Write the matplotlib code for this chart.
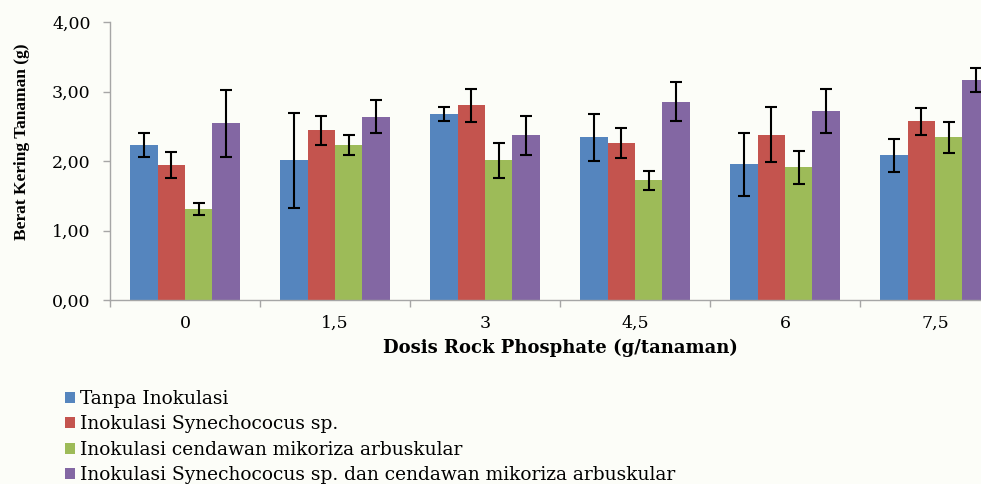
import numpy as np
import matplotlib.pyplot as plt

plt.rcParams['font.family'] = ['DejaVu Serif']

# Dosis rock phosphate (g/tanaman)
doses = ['0', '1,5', '3', '4,5', '6', '7,5']

series = ['Tanpa Inokulasi',
          'Inokulasi Synechococus sp.',
          'Inokulasi cendawan mikoriza arbuskular',
          'Inokulasi Synechococus sp. dan cendawan mikoriza arbuskular']

# berat kering tanaman (g) per perlakuan
tanpa = [2.23, 2.01, 2.68, 2.34, 1.95, 2.08]
syn = [1.94, 2.44, 2.80, 2.26, 2.38, 2.57]
cma = [1.31, 2.23, 2.01, 1.72, 1.91, 2.34]
syn_cma = [2.54, 2.64, 2.37, 2.85, 2.72, 3.17]

# simpangan (error bar)
tanpa_err = [0.17, 0.68, 0.10, 0.34, 0.46, 0.24]
syn_err = [0.19, 0.21, 0.24, 0.21, 0.40, 0.19]
cma_err = [0.08, 0.14, 0.25, 0.14, 0.24, 0.22]
syn_cma_err = [0.48, 0.24, 0.28, 0.28, 0.32, 0.17]

values = [tanpa, syn, cma, syn_cma]
errors = [tanpa_err, syn_err, cma_err, syn_cma_err]
colors = ['#5585BE', '#C4544E', '#9DBB58', '#8367A3']

bg = '#FCFDF8'
W, H = 981, 484
fig = plt.figure(figsize=(W / 100, H / 100), dpi=100, facecolor=bg)

ax = fig.add_axes([110 / W, 184 / H, 900 / W, 278 / H])
ax.set_facecolor(bg)

x = np.arange(len(doses))
width = 0.182
offsets = (np.arange(4) - 1.5) * width
bars = []
for vals, errs, col, off in zip(values, errors, colors, offsets):
    b = ax.bar(x + off, vals, width, color=col, linewidth=0, zorder=2)
    ax.errorbar(x + off, vals, yerr=errs, fmt='none', ecolor='black',
                elinewidth=1.5, capsize=4, capthick=1.5, zorder=3)
    bars.append(b)

ax.set_xlim(-0.5, len(doses) - 0.5)
ax.set_ylim(0, 4)
ax.set_yticks([0, 1, 2, 3, 4])
ax.set_yticklabels(['0,00', '1,00', '2,00', '3,00', '4,00'])
ax.set_xticks(x)
ax.set_xticklabels(doses)
ax.set_xticks(np.arange(-0.5, len(doses), 1), minor=True)

for s in ['top', 'right']:
    ax.spines[s].set_visible(False)
for s in ['left', 'bottom']:
    ax.spines[s].set_color('#A6A6A6')
    ax.spines[s].set_linewidth(1)

ax.tick_params(axis='y', length=5, width=1, color='#A6A6A6', pad=9,
               labelsize=12.5)
ax.tick_params(axis='x', which='major', length=0, pad=11, labelsize=12.5)
ax.tick_params(axis='x', which='minor', length=5, width=1, color='#A6A6A6')

ax.set_xlabel('Dosis Rock Phosphate (g/tanaman)', fontsize=13,
              fontweight='bold', labelpad=5)
fig.text(22 / W, 1 - 142 / H, 'Berat Kering Tanaman (g)', rotation=90,
         family='Liberation Serif', fontsize=12.5, fontweight='bold',
         ha='center', va='center')

fig.legend(bars, series, loc='upper left', bbox_to_anchor=(65 / W, 1 - 390 / H),
           frameon=False, fontsize=13.4, handlelength=0.55, handleheight=0.55,
           handletextpad=0.25, labelspacing=0.4, borderaxespad=0, borderpad=0)

plt.savefig('out.png', dpi=100, facecolor=bg)
